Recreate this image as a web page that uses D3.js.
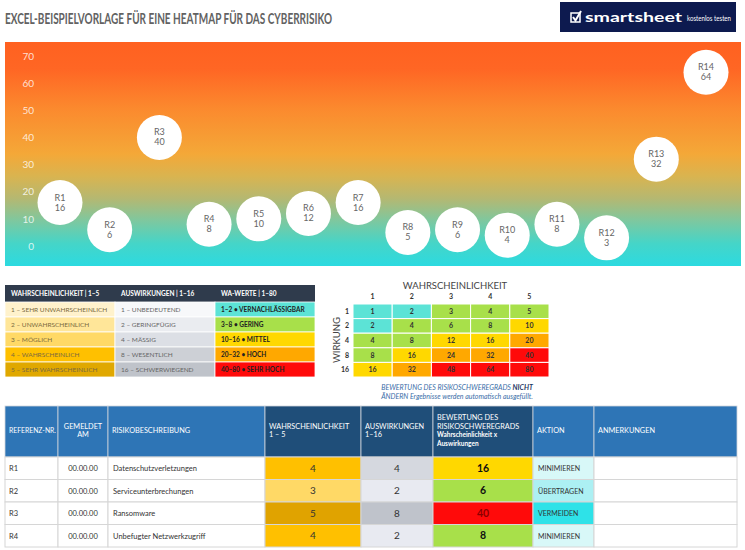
<!DOCTYPE html>
<html>
<head>
<meta charset="utf-8">
<script src="https://cdn.jsdelivr.net/npm/d3@7"></script>
<style>
  body { margin: 0; background: #fff; }
  svg { display: block; font-family: Lato, 'Noto Sans', sans-serif; }
</style>
</head>
<body>
<div id="chart"></div>
<script>
'use strict';

// bubble chart data
var refs = ['R1', 'R2', 'R3', 'R4', 'R5', 'R6', 'R7', 'R8', 'R9', 'R10', 'R11', 'R12', 'R13', 'R14'];
var scores = [16, 6, 40, 8, 10, 12, 16, 5, 6, 4, 8, 3, 32, 64];
var yTicks = [0, 10, 20, 30, 40, 50, 60, 70];

// legend table
var legendHeaders = ['WAHRSCHEINLICHKEIT | 1–5', 'AUSWIRKUNGEN | 1–16', 'WA-WERTE | 1–80'];
var likelihoodLabels = ['1 – SEHR UNWAHRSCHEINLICH', '2 – UNWAHRSCHEINLICH', '3 – MÖGLICH', '4 – WAHRSCHEINLICH', '5 – SEHR WAHRSCHEINLICH'];
var impactLabels = ['1 – UNBEDEUTEND', '2 – GERINGFÜGIG', '4 – MÄSSIG', '8 – WESENTLICH', '16 – SCHWERWIEGEND'];
var waLabels = ['1–2 • VERNACHLÄSSIGBAR', '3–8 • GERING', '10–16 • MITTEL', '20–32 • HOCH', '40–80 • SEHR HOCH'];

// matrix
var likelihoodLevels = [1, 2, 3, 4, 5];
var impactLevels = [1, 2, 4, 8, 16];
var matrixValues = [
  [1, 2, 3, 4, 5],
  [2, 4, 6, 8, 10],
  [4, 8, 12, 16, 20],
  [8, 16, 24, 32, 40],
  [16, 32, 48, 64, 80]
];

// register table
var tableHeaders = [
  ['REFERENZ-NR.'], ['GEMELDET', 'AM'], ['RISIKOBESCHREIBUNG'],
  ['WAHRSCHEINLICHKEIT', '1 – 5'], ['AUSWIRKUNGEN', '1–16'],
  ['BEWERTUNG DES', 'RISIKOSCHWEREGRADS', 'Wahrscheinlichkeit x', 'Auswirkungen'],
  ['AKTION'], ['ANMERKUNGEN']
];
var rowIds = ['R1', 'R2', 'R3', 'R4'];
var rowDates = ['00.00.00', '00.00.00', '00.00.00', '00.00.00'];
var rowDescriptions = ['Datenschutzverletzungen', 'Serviceunterbrechungen', 'Ransomware', 'Unbefugter Netzwerkzugriff'];
var rowLikelihoods = [4, 3, 5, 4];
var rowImpacts = [4, 2, 8, 2];
var rowRatings = [16, 6, 40, 8];
var rowActions = ['MINIMIEREN', 'ÜBERTRAGEN', 'VERMEIDEN', 'MINIMIEREN'];

var W = 745, H = 550;
var svg = d3.select('#chart').append('svg').attr('width', W).attr('height', H);

// ---- title + logo
svg.append('text')
  .attr('x', 5).attr('y', 24)
  .attr('font-size', 16).attr('font-weight', 700)
  .attr('fill', '#626262')
  .attr('textLength', 327).attr('lengthAdjust', 'spacingAndGlyphs')
  .text('EXCEL-BEISPIELVORLAGE FÜR EINE HEATMAP FÜR DAS CYBERRISIKO');

var logo = svg.append('g');
logo.append('rect').attr('x', 560).attr('y', 2).attr('width', 176).attr('height', 30).attr('fill', '#0d1a4f');
logo.append('rect').attr('x', 571).attr('y', 13).attr('width', 9).attr('height', 9)
  .attr('fill', 'none').attr('stroke', '#fff').attr('stroke-width', 1.5);
logo.append('path').attr('d', 'M573,17 L575.5,20.5 L581,11')
  .attr('fill', 'none').attr('stroke', '#fff').attr('stroke-width', 2);
logo.append('text').attr('x', 585).attr('y', 22).attr('fill', '#fff')
  .attr('font-size', 14).attr('font-weight', 700)
  .attr('textLength', 97).attr('lengthAdjust', 'spacingAndGlyphs').text('smartsheet');
logo.append('text').attr('x', 687).attr('y', 21).attr('fill', '#fff')
  .attr('font-size', 8).attr('textLength', 44).attr('lengthAdjust', 'spacingAndGlyphs')
  .text('kostenlos testen');

// ---- bubble chart
var defs = svg.append('defs');
var grad = defs.append('linearGradient').attr('id', 'bg').attr('x1', 0).attr('y1', 0).attr('x2', 0).attr('y2', 1);
[[0, '#ff6120'], [0.12, '#ff6624'], [0.3, '#fb8a2e'], [0.5, '#f4a838'], [0.6, '#d9b450'],
 [0.7, '#b4b872'], [0.8, '#7dc8a0'], [0.9, '#45d5c8'], [1, '#2cdae0']].forEach(function(s) {
  grad.append('stop').attr('offset', s[0]).attr('stop-color', s[1]);
});

svg.append('rect').attr('x', 5).attr('y', 42).attr('width', 736).attr('height', 224).attr('fill', 'url(#bg)');

var x = d3.scalePoint().domain(refs).range([60, 706]);
var y = d3.scaleLinear().domain([0, 70]).range([246, 56]);

var yAxis = svg.append('g').attr('transform', 'translate(34,0)')
  .call(d3.axisLeft(y).tickValues(yTicks).tickSize(0).tickPadding(0));
yAxis.select('.domain').remove();
yAxis.selectAll('text').attr('fill', '#fff').attr('fill-opacity', 0.8)
  .attr('font-size', 10).attr('font-family', 'Lato, sans-serif');

var bubbles = svg.append('g').selectAll('g').data(refs).join('g')
  .attr('transform', function(d, i) { return 'translate(' + x(d) + ',' + y(scores[i]) + ')'; });
bubbles.append('circle').attr('r', 22.5).attr('fill', '#fff');
bubbles.append('text').attr('y', -2).attr('text-anchor', 'middle')
  .attr('font-size', 9).attr('fill', '#666').text(function(d) { return d; });
bubbles.append('text').attr('y', 8).attr('text-anchor', 'middle')
  .attr('font-size', 9).attr('fill', '#666').text(function(d, i) { return scores[i]; });

// ---- legend table
var likelihoodColor = d3.scaleOrdinal().domain(d3.range(5))
  .range(['#fff2cc', '#ffe699', '#ffd966', '#ffc000', '#e0a800']);
var impactColor = d3.scaleOrdinal().domain(d3.range(5))
  .range(['#f7f8fa', '#eaecf0', '#dcdfe5', '#cdd0d6', '#bfc3ca']);
var waColor = d3.scaleOrdinal().domain(d3.range(5))
  .range(['#5ce3d6', '#a8e04a', '#ffd800', '#ffa800', '#ff0a0a']);

var legCols = [5, 115, 215, 315];
var legRow = d3.scaleBand().domain(d3.range(5)).range([302, 377]);
var legend = svg.append('g');

legend.append('rect').attr('x', 5).attr('y', 285).attr('width', 310).attr('height', 17).attr('fill', '#2f3b4c');
legend.selectAll('.lh').data(legendHeaders).join('text')
  .attr('x', function(d, i) { return legCols[i] + 6; }).attr('y', 296)
  .attr('font-size', 6.5).attr('font-weight', 700).attr('fill', '#fff').text(function(d) { return d; });

[[likelihoodLabels, likelihoodColor, '#7a6a40', 400], [impactLabels, impactColor, '#666', 400], [waLabels, waColor, '#222', 700]]
  .forEach(function(col, c) {
    var g = legend.append('g');
    g.selectAll('rect').data(col[0]).join('rect')
      .attr('x', legCols[c]).attr('y', function(d, i) { return legRow(i); })
      .attr('width', legCols[c + 1] - legCols[c]).attr('height', legRow.bandwidth())
      .attr('fill', function(d, i) { return col[1](i); })
      .attr('stroke', '#fff').attr('stroke-width', 0.8);
    g.selectAll('text').data(col[0]).join('text')
      .attr('x', legCols[c] + 6).attr('y', function(d, i) { return legRow(i) + legRow.bandwidth() / 2 + 2.5; })
      .attr('font-size', 6.5).attr('font-weight', col[3]).attr('fill', col[2])
      .text(function(d) { return d; });
  });

// ---- matrix
var mx = d3.scaleBand().domain(likelihoodLevels).range([353, 549]);
var my = d3.scaleBand().domain(impactLevels).range([304, 377]);
function matrixColor(v) {
  if (v <= 2) return '#5ce3d6';
  if (v <= 8) return '#a8e04a';
  if (v <= 16) return '#ffd800';
  if (v <= 32) return '#ffa800';
  return '#ff0a0a';
}
var matrix = svg.append('g');
matrix.append('text').attr('x', 455).attr('y', 289).attr('text-anchor', 'middle')
  .attr('font-size', 9.5).attr('fill', '#444').text('WAHRSCHEINLICHKEIT');
matrix.selectAll('.ch').data(likelihoodLevels).join('text')
  .attr('x', function(d) { return mx(d) + mx.bandwidth() / 2; }).attr('y', 299)
  .attr('text-anchor', 'middle').attr('font-size', 7).attr('font-weight', 700).attr('fill', '#333')
  .text(function(d) { return d; });
matrix.selectAll('.rh').data(impactLevels).join('text')
  .attr('x', 349).attr('y', function(d) { return my(d) + my.bandwidth() / 2 + 2.5; })
  .attr('text-anchor', 'end').attr('font-size', 7).attr('font-weight', 700).attr('fill', '#333')
  .text(function(d) { return d; });
matrix.append('text').attr('transform', 'translate(340,340) rotate(-90)')
  .attr('text-anchor', 'middle').attr('font-size', 9.5).attr('fill', '#444').text('WIRKUNG');

impactLevels.forEach(function(imp, r) {
  var row = matrix.append('g');
  row.selectAll('rect').data(matrixValues[r]).join('rect')
    .attr('x', function(d, c) { return mx(likelihoodLevels[c]); }).attr('y', my(imp))
    .attr('width', mx.bandwidth()).attr('height', my.bandwidth())
    .attr('fill', matrixColor).attr('stroke', '#fff').attr('stroke-width', 1);
  row.selectAll('text').data(matrixValues[r]).join('text')
    .attr('x', function(d, c) { return mx(likelihoodLevels[c]) + mx.bandwidth() / 2; })
    .attr('y', my(imp) + my.bandwidth() / 2 + 2.5)
    .attr('text-anchor', 'middle').attr('font-size', 7).attr('font-weight', 700).attr('fill', '#333')
    .text(function(d) { return d; });
});

var note = svg.append('g').attr('font-size', 7).attr('font-style', 'italic').attr('fill', '#3a6ea8');
var n1 = note.append('text').attr('x', 457).attr('y', 390).attr('text-anchor', 'middle');
n1.append('tspan').text('BEWERTUNG DES RISIKOSCHWEREGRADS ');
n1.append('tspan').attr('font-weight', 700).attr('fill', '#1f3864').text('NICHT');
note.append('text').attr('x', 457).attr('y', 399).attr('text-anchor', 'middle')
  .text('ÄNDERN Ergebnisse werden automatisch ausgefüllt.');

// ---- register table
var colEdges = [5, 58, 108, 265, 361, 433, 533, 594, 737];
var darkCols = [3, 4, 5];
var rowY = d3.scaleBand().domain(rowIds).range([457, 547]);
var table = svg.append('g');

table.selectAll('.hd').data(tableHeaders).join('rect')
  .attr('x', function(d, i) { return colEdges[i]; }).attr('y', 406)
  .attr('width', function(d, i) { return colEdges[i + 1] - colEdges[i]; }).attr('height', 51)
  .attr('fill', function(d, i) { return darkCols.indexOf(i) >= 0 ? '#1f4e79' : '#2e75b6'; })
  .attr('stroke', '#d0d5dc').attr('stroke-width', 0.8);

tableHeaders.forEach(function(lines, i) {
  var centered = i === 1;
  var tx = centered ? (colEdges[i] + colEdges[i + 1]) / 2 : colEdges[i] + 4;
  var lh = 8.5;
  var y0 = 433 - (lines.length - 1) * lh / 2;
  table.append('g').selectAll('text').data(lines).join('text')
    .attr('x', tx).attr('y', function(d, k) { return y0 + k * lh; })
    .attr('text-anchor', centered ? 'middle' : 'start')
    .attr('font-size', function(d, k) { return (i === 5 && k > 1) ? 6.5 : (i === 0 ? 6.8 : 7.3); })
    .attr('font-weight', function(d, k) { return (i === 5 && k > 1) ? 700 : 400; })
    .attr('fill', '#fff')
    .text(function(d) { return d; });
});

var likeCell = d3.scaleOrdinal().domain([1, 2, 3, 4, 5]).range(['#fff2cc', '#ffe699', '#ffd966', '#ffc000', '#e0a300']);
var impCell = d3.scaleOrdinal().domain([1, 2, 4, 8, 16]).range(['#f5f6f9', '#e8eaf1', '#d5d8df', '#bfc3cb', '#aeb2bb']);
var actCell = d3.scaleOrdinal().domain(['MINIMIEREN', 'ÜBERTRAGEN', 'VERMEIDEN']).range(['#d8f8f8', '#acf0f3', '#2ee2e8']);

rowIds.forEach(function(id, r) {
  var ry = rowY(id), rh = rowY.bandwidth(), cy = ry + rh / 2 + 3;
  var fills = ['#fff', '#fff', '#fff', likeCell(rowLikelihoods[r]), impCell(rowImpacts[r]),
    matrixColor(rowRatings[r]), actCell(rowActions[r]), '#fff'];
  var g = table.append('g');
  g.selectAll('rect').data(fills).join('rect')
    .attr('x', function(d, i) { return colEdges[i]; }).attr('y', ry)
    .attr('width', function(d, i) { return colEdges[i + 1] - colEdges[i]; }).attr('height', rh)
    .attr('fill', function(d) { return d; })
    .attr('stroke', '#d6d6d6').attr('stroke-width', 1);
  g.append('text').attr('x', colEdges[0] + 4).attr('y', cy).attr('font-size', 7.5).attr('fill', '#333').text(id);
  g.append('text').attr('x', (colEdges[1] + colEdges[2]) / 2).attr('y', cy).attr('text-anchor', 'middle')
    .attr('font-size', 7.5).attr('fill', '#333').text(rowDates[r]);
  g.append('text').attr('x', colEdges[2] + 5).attr('y', cy).attr('font-size', 7.5).attr('fill', '#333').text(rowDescriptions[r]);
  g.append('text').attr('x', (colEdges[3] + colEdges[4]) / 2).attr('y', cy + 0.5).attr('text-anchor', 'middle')
    .attr('font-size', 10).attr('fill', '#333').text(rowLikelihoods[r]);
  g.append('text').attr('x', (colEdges[4] + colEdges[5]) / 2).attr('y', cy + 0.5).attr('text-anchor', 'middle')
    .attr('font-size', 10).attr('fill', '#333').text(rowImpacts[r]);
  g.append('text').attr('x', (colEdges[5] + colEdges[6]) / 2).attr('y', cy + 0.5).attr('text-anchor', 'middle')
    .attr('font-size', 10.5).attr('font-weight', 700)
    .attr('fill', rowRatings[r] >= 40 ? '#8b0000' : '#111').text(rowRatings[r]);
  g.append('text').attr('x', colEdges[6] + 5).attr('y', cy).attr('font-size', 7)
    .attr('fill', '#333').text(rowActions[r]);
});
</script>
</body>
</html>
